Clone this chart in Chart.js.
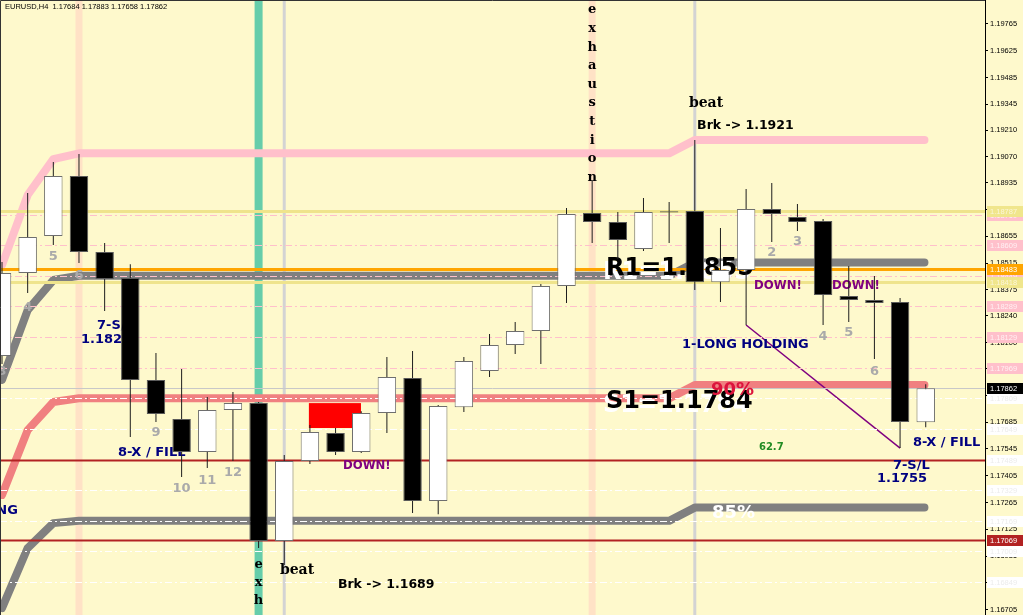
<!DOCTYPE html>
<html>
<head>
<meta charset="utf-8">
<title>EURUSD H4</title>
<script src="https://cdn.jsdelivr.net/npm/chart.js@4/dist/chart.umd.min.js"></script>
<style>
  html, body { margin: 0; padding: 0; background: #fef9cc; }
  canvas { display: block; }
</style>
</head>
<body>
<canvas id="chart" width="1023" height="615"></canvas>
<script>
// EURUSD H4 candles, left to right
const opens  = [1.18030, 1.18464, 1.18657, 1.18970, 1.18573, 1.18437, 1.17905, 1.17701, 1.17528, 1.17748,
                1.17784, 1.17063, 1.17481, 1.17628, 1.17528, 1.17732, 1.17915, 1.17272, 1.17763, 1.17952,
                1.18087, 1.18161, 1.18396, 1.18777, 1.18730, 1.18589, 1.18786, 1.18788, 1.18416, 1.18479,
                1.18798, 1.18756, 1.18735, 1.18343, 1.18323, 1.18312, 1.17684];
const highs  = [1.18521, 1.18882, 1.19044, 1.19085, 1.18620, 1.18510, 1.18046, 1.17962, 1.17816, 1.17842,
                1.17790, 1.17513, 1.17669, 1.17654, 1.17742, 1.18025, 1.18056, 1.17774, 1.18025, 1.18145,
                1.18208, 1.18406, 1.18803, 1.18950, 1.18782, 1.18855, 1.18835, 1.19158, 1.18699, 1.18902,
                1.18934, 1.18824, 1.18746, 1.18500, 1.18448, 1.18333, 1.17883];
const lows   = [1.17988, 1.18359, 1.18610, 1.18516, 1.18265, 1.17607, 1.17685, 1.17398, 1.17445, 1.17481,
                1.17027, 1.16938, 1.17466, 1.17513, 1.17523, 1.17628, 1.17210, 1.17204, 1.17737, 1.17920,
                1.18040, 1.17988, 1.18307, 1.18620, 1.18537, 1.18579, 1.18620, 1.18375, 1.18312, 1.18192,
                1.18626, 1.18683, 1.18192, 1.18208, 1.18014, 1.17549, 1.17658];
const closes = [1.18464, 1.18652, 1.18970, 1.18573, 1.18432, 1.17905, 1.17727, 1.17528, 1.17748, 1.17784,
                1.17063, 1.17481, 1.17633, 1.17528, 1.17732, 1.17920, 1.17272, 1.17769, 1.18004, 1.18087,
                1.18161, 1.18396, 1.18772, 1.18730, 1.18636, 1.18782, 1.18780, 1.18416, 1.18479, 1.18798,
                1.18772, 1.18730, 1.18349, 1.18323, 1.18307, 1.17685, 1.17862];

// price axis
const yTicks = [1.19765, 1.19625, 1.19485, 1.19345, 1.19210, 1.19070, 1.18935, 1.18795, 1.18655, 1.18515,
                1.18375, 1.18240, 1.18100, 1.17965, 1.17825, 1.17685, 1.17545, 1.17405, 1.17265, 1.17125,
                1.16985, 1.16845, 1.16705];

// channel bands (bar index -> price)
const bandIdx    = [0, 1, 2, 3, 26, 27, 35.95];
const pinkBand   = [1.18505, 1.18871, 1.19059, 1.19089, 1.19089, 1.19158, 1.19158];
const grayBand   = [1.17905, 1.18270, 1.18427, 1.18449, 1.18449, 1.18518, 1.18518];
const salmonBand = [1.17304, 1.17643, 1.17790, 1.17809, 1.17809, 1.17878, 1.17878];
const lowBand    = [1.16713, 1.17027, 1.17157, 1.17169, 1.17169, 1.17238, 1.17238];

// horizontal levels
const khakiLevels = [1.18787, 1.18418];
const pinkLevels  = [1.18769, 1.18609, 1.18449, 1.18289, 1.18129, 1.17969];
const whiteLevels = [1.17809, 1.17649, 1.17489, 1.17329, 1.17169, 1.17009, 1.16849];
const redLevels   = [1.17489, 1.17069];
const orangeLevel = 1.18483;

// vertical markers (bar index)
const peachBars = [3, 23];
const greenBars = [10];
const greyBars  = [11, 27];

// red supply box and the stop line
const boxIdx   = [11.96, 13.99];
const boxPrice = [1.17654, 1.17784];
const stopIdx   = [29, 35];
const stopPrice = [1.18192, 1.17549];

// bar counts
const countIdx   = [0, 1, 2, 3, 6, 7, 8, 9, 30, 31, 32, 33, 34];
const countText  = ['3', '4', '5', '6', '9', '10', '11', '12', '2', '3', '4', '5', '6'];
const countPrice = [1.17946, 1.18281, 1.18547, 1.18448, 1.17628, 1.17335, 1.17377, 1.17419,
                    1.18568, 1.18626, 1.18129, 1.18150, 1.17946];

const sans  = '"DejaVu Sans", Verdana, sans-serif';
const serif = '"DejaVu Serif", Georgia, serif';
const small = '"Liberation Sans", Arial, sans-serif';
const narrow = '"Liberation Sans Narrow", "DejaVu Sans Condensed", sans-serif';

const notes = [
  { t: 'R1=1.1855', i: 23.54, p: 1.18484, font: 'bold 24px ' + sans, color: '#000', shadow: true },
  { t: 'S1=1.1784', i: 23.54, p: 1.17790, font: 'bold 24px ' + sans, color: '#000', shadow: true },
  { t: '90%', i: 27.63, p: 1.17852, font: 'bold 18px ' + sans, color: '#dc143c' },
  { t: '85%', i: 27.67, p: 1.17210, font: 'bold 18px ' + sans, color: '#ffffff' },
  { t: '1-LONG HOLDING', i: 26.5, p: 1.18087, font: 'bold 13px ' + sans, color: '#000080' },
  { t: '1-LONG HOLDING', i: 0.62, p: 1.17220, font: 'bold 13px ' + sans, color: '#000080', align: 'right' },
  { t: '7-S/L', i: 3.70, p: 1.18187, font: 'bold 13px ' + sans, color: '#000080' },
  { t: '1.1825', i: 3.08, p: 1.18114, font: 'bold 13px ' + sans, color: '#000080' },
  { t: '8-X / FILL', i: 4.52, p: 1.17523, font: 'bold 13px ' + sans, color: '#000080' },
  { t: '8-X / FILL', i: 35.50, p: 1.17575, font: 'bold 13px ' + sans, color: '#000080' },
  { t: '7-S/L', i: 34.72, p: 1.17460, font: 'bold 13px ' + sans, color: '#000080' },
  { t: '1.1755', i: 34.10, p: 1.17392, font: 'bold 13px ' + sans, color: '#000080' },
  { t: 'DOWN!', i: 13.29, p: 1.17455, font: 'bold 13px ' + narrow, color: '#800080' },
  { t: 'DOWN!', i: 29.31, p: 1.18396, font: 'bold 13px ' + narrow, color: '#800080' },
  { t: 'DOWN!', i: 32.35, p: 1.18396, font: 'bold 13px ' + narrow, color: '#800080' },
  { t: '62.7', i: 29.50, p: 1.17554, font: 'bold 10px ' + sans, color: '#228b22' },
  { t: 'beat', i: 26.77, p: 1.19352, font: 'bold 14px ' + serif, color: '#000' },
  { t: 'beat', i: 10.83, p: 1.16912, font: 'bold 14px ' + serif, color: '#000' },
  { t: 'Brk -> 1.1921', i: 27.09, p: 1.19232, font: 'bold 12.5px ' + sans, color: '#000' },
  { t: 'Brk -> 1.1689', i: 13.09, p: 1.16833, font: 'bold 12.5px ' + sans, color: '#000' },
  { t: 'exhaustion', i: 23, p: 1.19838, font: 'bold 13px ' + serif, color: '#000', step: 18.6 },
  { t: 'exh', i: 10, p: 1.16938, font: 'bold 13px ' + serif, color: '#000', step: 18 }
];

const idx = opens.map((_, i) => i);

function drawHLine(ctx, area, y, color, width, dash) {
  ctx.save();
  ctx.strokeStyle = color;
  ctx.lineWidth = width;
  ctx.setLineDash(dash || []);
  ctx.beginPath();
  ctx.moveTo(area.left, y);
  ctx.lineTo(area.right, y);
  ctx.stroke();
  ctx.restore();
}

function drawVLine(ctx, area, x, color, width) {
  ctx.fillStyle = color;
  ctx.fillRect(x - width / 2, area.top, width, area.bottom - area.top);
}

const overlay = {
  id: 'overlay',
  beforeDraw(chart) {
    const ctx = chart.ctx;
    ctx.save();
    ctx.fillStyle = '#fef9cc';
    ctx.fillRect(0, 0, chart.width, chart.height);
    ctx.restore();
  },
  beforeDatasetsDraw(chart) {
    const { ctx, chartArea: area, scales: { x, y } } = chart;
    ctx.save();
    ctx.beginPath();
    ctx.rect(area.left, area.top, area.right - area.left, area.bottom - area.top);
    ctx.clip();
    peachBars.forEach(i => drawVLine(ctx, area, x.getPixelForValue(i), '#ffe2c6', 7));
    greenBars.forEach(i => drawVLine(ctx, area, x.getPixelForValue(i), '#66cdaa', 8));
    greyBars.forEach(i => drawVLine(ctx, area, x.getPixelForValue(i), '#d3d3d3', 3));
    // supply box
    const bx0 = x.getPixelForValue(boxIdx[0]), bx1 = x.getPixelForValue(boxIdx[1]);
    const by0 = y.getPixelForValue(boxPrice[1]), by1 = y.getPixelForValue(boxPrice[0]);
    ctx.fillStyle = '#ff0000';
    ctx.fillRect(bx0, by0, bx1 - bx0, by1 - by0);
    ctx.restore();
  },
  afterDatasetDraw(chart, args) {
    // levels and notes go above the bands but under the candles
    if (args.index !== 6) return;
    const { ctx, chartArea: area, scales: { x, y } } = chart;
    const py = p => Math.round(y.getPixelForValue(p)) + 0.5;
    ctx.save();
    ctx.beginPath();
    ctx.rect(area.left, area.top, area.right - area.left, area.bottom - area.top);
    ctx.clip();
    khakiLevels.forEach(p => drawHLine(ctx, area, py(p), '#efe48c', 3));
    pinkLevels.forEach(p => drawHLine(ctx, area, py(p), '#ffc0cb', 1, [7, 3, 2, 3]));
    whiteLevels.forEach(p => drawHLine(ctx, area, py(p), '#ffffff', 1, [7, 3, 2, 3]));
    redLevels.forEach(p => drawHLine(ctx, area, py(p), '#b22222', 2));
    drawHLine(ctx, area, py(orangeLevel), '#ffa500', 3);
    drawHLine(ctx, area, py(closes[closes.length - 1]), '#c8c8c8', 1);

    ctx.textBaseline = 'middle';
    countIdx.forEach((i, k) => {
      ctx.font = 'bold 13px ' + sans;
      ctx.fillStyle = '#aaaaaa';
      ctx.textAlign = 'center';
      ctx.fillText(countText[k], x.getPixelForValue(i), y.getPixelForValue(countPrice[k]));
    });

    notes.forEach(n => {
      const nx = x.getPixelForValue(n.i);
      const ny = y.getPixelForValue(n.p);
      ctx.font = n.font;
      if (n.step) {
        ctx.textAlign = 'center';
        ctx.fillStyle = n.color;
        n.t.split('').forEach((ch, k) => ctx.fillText(ch, nx, ny + k * n.step));
        return;
      }
      ctx.textAlign = n.align || 'left';
      if (n.shadow) {
        ctx.fillStyle = '#ffffff';
        ctx.fillText(n.t, nx - 3, ny + 4);
      }
      ctx.fillStyle = n.color;
      ctx.fillText(n.t, nx, ny);
    });
    ctx.restore();
  },
  afterDraw(chart) {
    const { ctx, chartArea: area, scales: { y } } = chart;
    ctx.save();
    // frame
    ctx.strokeStyle = '#333';
    ctx.lineWidth = 1;
    ctx.beginPath();
    ctx.moveTo(0.5, area.bottom);
    ctx.lineTo(0.5, 0.5);
    ctx.lineTo(area.right, 0.5);
    ctx.stroke();

    // price tags on the axis
    ctx.font = '7.5px ' + small;
    ctx.textBaseline = 'middle';
    ctx.textAlign = 'left';
    const tag = (p, bg, fg) => {
      const ty = Math.round(y.getPixelForValue(p));
      ctx.fillStyle = bg;
      ctx.fillRect(area.right + 2, ty - 5, chart.width - area.right - 2, 11);
      ctx.fillStyle = fg;
      ctx.fillText(p.toFixed(5), area.right + 5, ty + 0.5);
    };
    whiteLevels.forEach(p => tag(p, '#ffffff', '#ececec'));
    pinkLevels.forEach(p => tag(p, '#ffc0cb', '#fff0f3'));
    khakiLevels.forEach(p => tag(p, '#f0e68c', '#fbf6d8'));
    tag(orangeLevel, '#ffa500', '#ffffff');
    tag(redLevels[1], '#b22222', '#ffffff');
    tag(closes[closes.length - 1], '#000000', '#ffffff');

    // symbol header
    const last = closes.length - 1;
    ctx.fillStyle = '#000';
    ctx.fillText('EURUSD,H4  ' + [opens[last], highs[last], lows[last], closes[last]]
      .map(v => v.toFixed(5)).join(' '), 5, 7);
    ctx.restore();
  }
};

const bodyColors = idx.map(i => closes[i] > opens[i] ? '#ffffff' : '#000000');
const bodyBorders = idx.map(i => closes[i] > opens[i] ? '#6e6e6e' : '#5a5a5a');

function bandDataset(values, color) {
  return {
    type: 'line',
    data: bandIdx.map((i, k) => ({ x: i, y: values[k] })),
    borderColor: color,
    borderWidth: 8,
    borderCapStyle: 'round',
    borderJoinStyle: 'round',
    pointRadius: 0,
    tension: 0,
    order: 3
  };
}

new Chart(document.getElementById('chart'), {
  type: 'bar',
  data: {
    datasets: [
      {
        // candle bodies
        data: idx.map(i => ({ x: i, y: [opens[i], closes[i]] })),
        backgroundColor: bodyColors,
        borderColor: bodyBorders,
        borderWidth: 1,
        borderSkipped: false,
        grouped: false,
        maxBarThickness: 19,
        order: 0
      },
      {
        // wicks
        data: idx.map(i => ({ x: i, y: [lows[i], highs[i]] })),
        backgroundColor: '#1e1e1e',
        borderWidth: 0,
        grouped: false,
        maxBarThickness: 1,
        order: 1
      },
      bandDataset(pinkBand, '#ffc0cb'),
      bandDataset(grayBand, '#808080'),
      bandDataset(salmonBand, '#f08080'),
      bandDataset(lowBand, '#808080'),
      {
        type: 'line',
        data: stopIdx.map((i, k) => ({ x: i, y: stopPrice[k] })),
        borderColor: '#800080',
        borderWidth: 1.5,
        pointRadius: 0,
        order: 2
      }
    ]
  },
  options: {
    responsive: false,
    animation: false,
    events: [],
    layout: { padding: 0 },
    plugins: {
      legend: { display: false },
      tooltip: { enabled: false }
    },
    scales: {
      x: {
        type: 'linear',
        display: false,
        offset: false,
        min: -0.078,
        max: 38.31
      },
      y: {
        position: 'right',
        min: 1.16677,
        max: 1.19890,
        afterBuildTicks: function (scale) {
          scale.ticks = yTicks.map(v => ({ value: v }));
        },
        afterFit: function (scale) {
          scale.width = 38;
          scale.paddingTop = 0;
          scale.paddingBottom = 0;
        },
        ticks: {
          autoSkip: false,
          padding: 2,
          color: '#000',
          font: { family: small, size: 7.5 },
          callback: function (value) {
            return value.toFixed(5);
          }
        },
        grid: {
          drawOnChartArea: false,
          tickLength: 3,
          color: '#000'
        },
        border: { color: '#000' }
      }
    }
  },
  plugins: [overlay]
});
</script>
</body>
</html>
